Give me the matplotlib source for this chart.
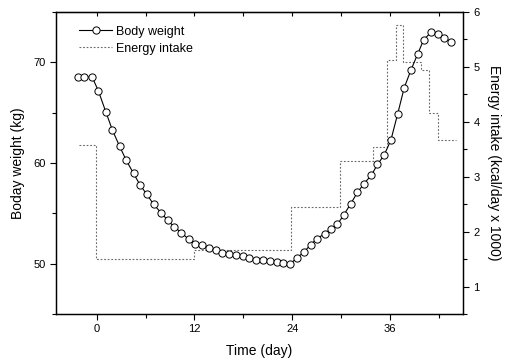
import matplotlib
matplotlib.use('Agg')
import matplotlib.pyplot as plt
from matplotlib.ticker import MultipleLocator

plt.rcParams['font.family'] = ['Liberation Sans', 'DejaVu Sans']

# 体重 (kg) の時系列
bw_day = [-2.34, -1.51, -0.57, 0.21, 1.11, 1.93, 2.80, 3.62, 4.52, 5.34, 6.16,
          6.98, 7.88, 8.71, 9.53, 10.39, 11.29, 12.12, 12.95, 13.78, 14.61,
          15.44, 16.27, 17.10, 17.93, 18.76, 19.59, 20.42, 21.25, 22.08, 22.91,
          23.74, 24.63, 25.46, 26.28, 27.09, 28.00, 28.82, 29.56, 30.38, 31.21,
          32.02, 32.84, 33.74, 34.48, 35.30, 36.13, 36.95, 37.77, 38.60, 39.41,
          40.15, 41.06, 41.87, 42.70, 43.52]
bw_kg = [68.54, 68.54, 68.54, 67.14, 65.08, 63.25, 61.67, 60.27, 58.96, 57.79,
         56.87, 55.90, 55.07, 54.31, 53.64, 53.08, 52.42, 52.00, 51.82, 51.59,
         51.32, 51.09, 50.99, 50.83, 50.73, 50.60, 50.40, 50.33, 50.26, 50.16,
         50.06, 49.97, 50.60, 51.16, 51.89, 52.49, 52.99, 53.48, 53.91, 54.88,
         55.97, 57.07, 57.96, 58.79, 59.85, 60.78, 62.27, 64.83, 67.48, 69.24,
         70.80, 72.22, 72.99, 72.79, 72.39, 72.06]

# エネルギー摂取量 (kcal/day x 1000) の階段
ei_day = [-2.2, -0.1, 11.9, 23.9, 29.9, 33.9, 35.7, 36.7, 37.6, 39.8, 40.8,
          41.9, 44.1]
ei_val = [3.58, 1.51, 1.66, 2.45, 3.29, 3.55, 5.13, 5.76, 5.08, 4.95, 4.16,
          3.67, 3.67]

fig = plt.figure(figsize=(5.05, 3.63), dpi=100)
ax = fig.add_axes([0.111, 0.135, 0.806, 0.832])
ax2 = ax.twinx()

l2, = ax2.step(ei_day, ei_val, where='post', color='#6a6a6a',
               linestyle=(0, (1.6, 1.6)), linewidth=0.8, label='Energy intake')
l1, = ax.plot(bw_day, bw_kg, color='black', linewidth=0.8, marker='o',
              markersize=5.2, markerfacecolor='white', markeredgecolor='black',
              markeredgewidth=0.7, label='Body weight')

# 体重の線を前面に
ax.set_zorder(ax2.get_zorder() + 1)
ax.patch.set_visible(False)

ax.set_xlim(-5, 45)
ax.set_ylim(45, 75)
ax2.set_ylim(0.5, 6)

ax.xaxis.set_major_locator(MultipleLocator(12))
ax.xaxis.set_minor_locator(MultipleLocator(6))
ax.yaxis.set_major_locator(MultipleLocator(10))
ax.yaxis.set_minor_locator(MultipleLocator(5))
ax2.yaxis.set_major_locator(MultipleLocator(1))
ax2.yaxis.set_minor_locator(MultipleLocator(0.5))

ax.tick_params(which='major', direction='out', length=4, width=0.8, labelsize=8)
ax.tick_params(which='minor', direction='out', length=3, width=0.8)
ax2.tick_params(which='major', direction='out', length=4, width=0.8, labelsize=8)
ax2.tick_params(which='minor', direction='out', length=3, width=0.8)

top = ax.secondary_xaxis('top')
top.xaxis.set_major_locator(MultipleLocator(12))
top.xaxis.set_minor_locator(MultipleLocator(6))
top.tick_params(which='both', direction='in', length=3, width=0.8, labeltop=False)

for s in ['left', 'bottom', 'right', 'top']:
    ax.spines[s].set_linewidth(0.9)
    ax2.spines[s].set_linewidth(0.9)

ax.set_xlabel('Time (day)', fontsize=10, labelpad=7)
ax.set_ylabel('Boday weight (kg)', fontsize=10, labelpad=6)
ax2.set_ylabel('Energy intake (kcal/day x 1000)', fontsize=10, rotation=270,
               labelpad=15)

ax.legend(handles=[l1, l2], loc='upper left', bbox_to_anchor=(0.057, 0.955),
          frameon=False, fontsize=9, handlelength=2.6, handletextpad=0.35,
          labelspacing=0.4, borderaxespad=0, borderpad=0)

plt.savefig('out.png', dpi=100)
